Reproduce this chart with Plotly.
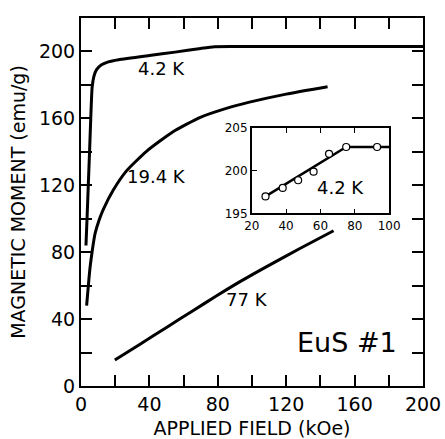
import plotly.graph_objects as go

# Magnetization curves of EuS #1 (field in kOe, moment in emu/g)
field_4k = [2.9, 3.6, 4.3, 5.0, 5.7, 6.5, 7.5, 9.0, 12.0, 16.0, 22.0, 40.0, 55.0, 70.0, 78.0, 90.0, 200.0]
moment_4k = [84, 102, 121, 140, 160, 178.5, 185, 189, 192, 193.8, 195.1, 197.6, 199.6, 201.8, 202.8, 202.9, 202.9]

field_19k = [3.3, 4.2, 5.2, 6.6, 8.2, 10.5, 13.0, 18.8, 26.6, 38.3, 53.8, 69.4, 85.0, 98.5, 120.0, 144.2]
moment_19k = [48, 59, 70, 81, 91, 99, 105.5, 117, 128.6, 140.3, 152, 160.5, 166, 169.7, 174.5, 178.9]

field_77k = [19.8, 35.0, 50.0, 65.0, 79.1, 93.0, 108.3, 128.0, 147.7]
moment_77k = [15.5, 25.3, 35.0, 44.7, 53.8, 62.4, 71.2, 82.2, 92.8]

# Inset: high-field detail at 4.2 K
inset_field = [28, 38, 47, 56, 65, 75, 93]
inset_moment = [197.0, 198.0, 198.9, 199.9, 202.0, 202.8, 202.8]
inset_fit_field = [28, 75, 100]
inset_fit_moment = [197.0, 202.8, 202.8]

main_ticks = list(range(0, 221, 20))
main_labels = [str(v) if v % 40 == 0 else "" for v in main_ticks]
x_ticks = list(range(0, 201, 20))
x_labels = [str(v) if v % 40 == 0 else "" for v in x_ticks]

FONT = "DejaVu Sans"
curve_line = dict(color="black", width=3, shape="spline", smoothing=0.5)

fig = go.Figure()
fig.add_trace(go.Scatter(x=field_4k, y=moment_4k, mode="lines", line=curve_line))
fig.add_trace(go.Scatter(x=field_19k, y=moment_19k, mode="lines", line=curve_line))
fig.add_trace(go.Scatter(x=field_77k, y=moment_77k, mode="lines", line=curve_line))

fig.add_trace(go.Scatter(x=inset_fit_field, y=inset_fit_moment, mode="lines",
                         line=dict(color="black", width=2.5), xaxis="x2", yaxis="y2"))
fig.add_trace(go.Scatter(x=inset_field, y=inset_moment, mode="markers",
                         marker=dict(symbol="circle", size=7, color="white",
                                     line=dict(color="black", width=1.2)),
                         xaxis="x2", yaxis="y2"))

axis_common = dict(showgrid=False, zeroline=False, showline=True, linecolor="black",
                   linewidth=2, ticks="inside", ticklen=11, tickwidth=1.5, tickcolor="black",
                   mirror="allticks", automargin=False,
                   tickfont=dict(family=FONT, size=19, color="black"))
title_font = dict(family=FONT, size=19, color="black")

fig.update_layout(
    width=445, height=439,
    margin=dict(l=81, r=21, t=11, b=53),
    paper_bgcolor="white", plot_bgcolor="white",
    showlegend=False,
    xaxis=dict(range=[0, 200], tickmode="array", tickvals=x_ticks, ticktext=x_labels,
               title=dict(text="APPLIED FIELD (kOe)", font=title_font, standoff=8),
               **axis_common),
    yaxis=dict(range=[0, 220], tickmode="array", tickvals=main_ticks, ticktext=main_labels,
               title=dict(text="MAGNETIC MOMENT (emu/g)", font=title_font, standoff=8),
               **axis_common),
    xaxis2=dict(domain=[0.4994, 0.9009], anchor="y2", range=[20, 100],
                tickmode="array", tickvals=[20, 40, 60, 80, 100],
                showgrid=False, zeroline=False, showline=True, linecolor="black", linewidth=1.5,
                ticks="inside", ticklen=5, tickwidth=1.2, tickcolor="black", mirror="ticks",
                tickfont=dict(family=FONT, size=12, color="black")),
    yaxis2=dict(domain=[0.4689, 0.7003], anchor="x2", range=[195, 205],
                tickmode="array", tickvals=[195, 200, 205],
                showgrid=False, zeroline=False, showline=True, linecolor="black", linewidth=1.5,
                ticks="inside", ticklen=5, tickwidth=1.2, tickcolor="black", mirror=True,
                tickfont=dict(family=FONT, size=12, color="black")),
)

label_font = dict(family=FONT, size=18, color="black")
fig.add_annotation(x=47, y=190, text="4.2 K", showarrow=False, font=label_font)
fig.add_annotation(x=44.3, y=125, text="19.4 K", showarrow=False, font=label_font)
fig.add_annotation(x=96.8, y=51.5, text="77 K", showarrow=False, font=label_font)
fig.add_annotation(x=155.4, y=25.8, text="EuS #1", showarrow=False,
                   font=dict(family=FONT, size=27, color="black"))
fig.add_annotation(x=71.7, y=198.0, xref="x2", yref="y2", text="4.2 K", showarrow=False,
                   font=label_font)

fig.write_html("out.html")
